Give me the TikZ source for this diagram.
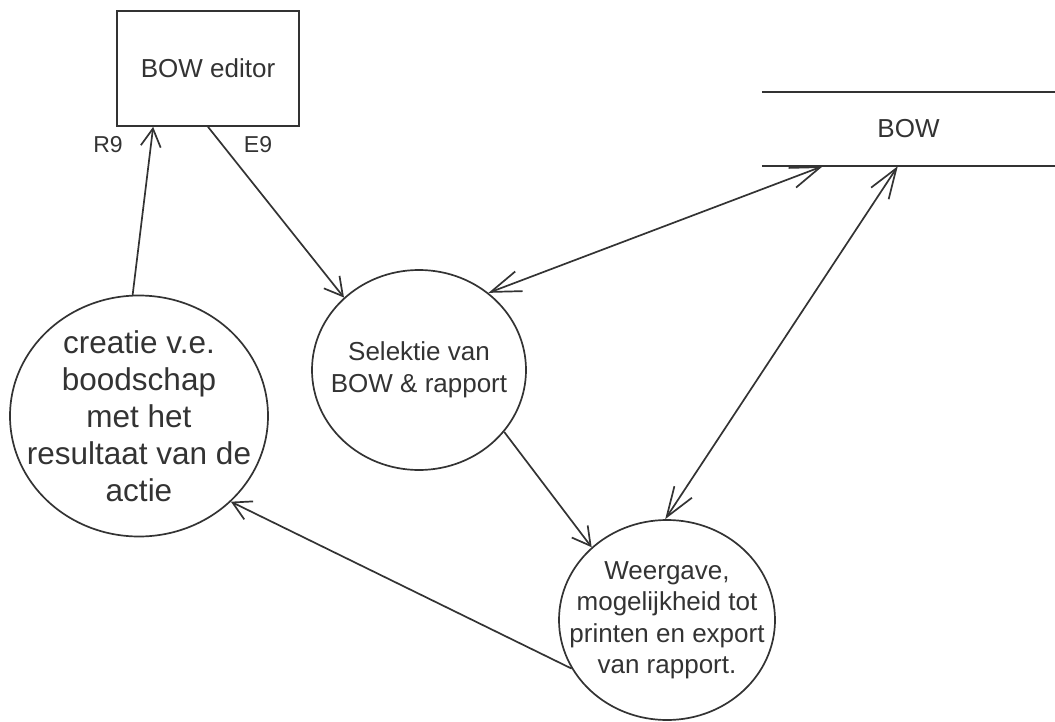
\documentclass[tikz,border=0pt]{standalone}
\usepackage{fontspec}
\setmainfont{Liberation Sans}
\usetikzlibrary{arrows.meta,shapes.geometric,calc}
\definecolor{ink}{HTML}{333333}
\begin{document}
\begin{tikzpicture}[x=1pt,y=-1pt,
  every node/.style={text=ink},
  ln/.style={draw=ink,line width=1.7pt},
  proc/.style={ln,ellipse,inner sep=0pt},
  ptext/.style={align=center,font=\fontsize{26}{31.5}\selectfont},
  conn/.style={ln,-{Straight Barb[length=18pt,width=20pt,line width=1.7pt]}},
  both/.style={ln,{Straight Barb[length=30pt,width=21pt,line width=1.7pt]}-{Straight Barb[length=30pt,width=21pt,line width=1.7pt]}},
  lbl/.style={font=\fontsize{23}{27}\selectfont}]
\useasboundingbox (0,0) rectangle (1055,722);

% BOW editor box
\node[ln,minimum width=182pt,minimum height=115pt,inner sep=0pt,
      font=\fontsize{26}{31}\selectfont] (ed) at (208,68.5) {BOW editor};

% BOW data store
\node[minimum width=293pt,minimum height=74pt,inner sep=0pt,
      font=\fontsize{26}{31}\selectfont] (store) at (908.5,129) {BOW};
\draw[ln] (store.north west) -- (store.north east);
\draw[ln] (store.south west) -- (store.south east);

% processes
\node[proc,minimum width=258pt,minimum height=241pt,
      label={[align=center,font=\fontsize{31.5}{37}\selectfont]center:creatie v.e.\\boodschap\\met het\\resultaat van de\\actie}] (c1) at (139,416) {};
\node[proc,minimum width=214pt,minimum height=200pt,
      label={[ptext]center:Selektie van\\BOW \& rapport}] (c2) at (419,370) {};
\node[proc,minimum width=216pt,minimum height=200pt,
      label={[ptext]center:Weergave,\\mogelijkheid tot\\printen en export\\van rapport.}] (c3) at (667,620) {};

% connectors
\coordinate (edR) at ($(ed.south west)+(37,0)$);
\draw[conn] (c1.93) -- (edR);
\draw[conn] (ed.south) -- (c2.136.5);
\node[lbl] (r9) at (108,145) {R9};
\node[lbl] (e9) at (258,145) {E9};

\coordinate (sA) at ($(store.south west)+(61,0)$);
\coordinate (sB) at ($(store.south west)+(136,0)$);
\draw[both] (c2.48.6) -- (sA);
\draw[both] (c3.91.7) -- (sB);

\draw[conn] (c2.-36.9) -- (c3.136.6);
\draw[conn] (c3.207) -- (c1.-43);
\end{tikzpicture}
\end{document}
